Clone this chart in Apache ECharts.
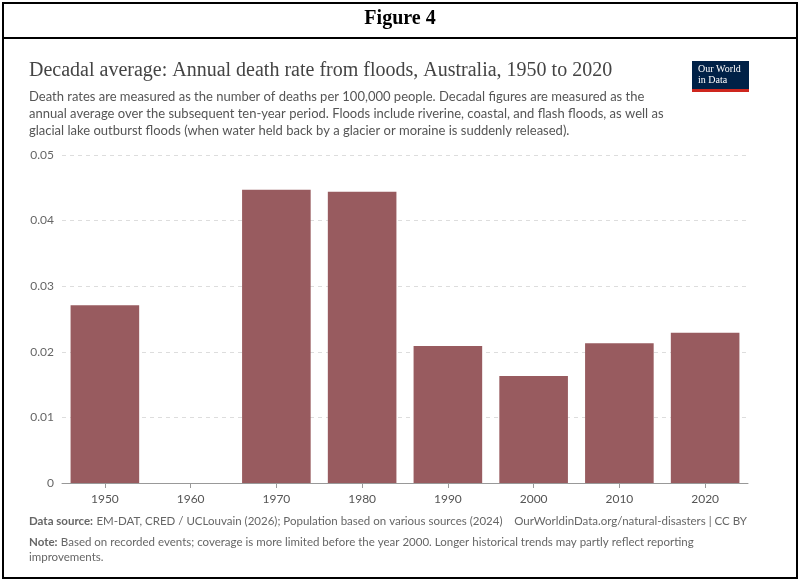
<!DOCTYPE html>
<html><head><meta charset="utf-8">
<script src="https://cdn.jsdelivr.net/npm/echarts@6/dist/echarts.min.js"></script>
<style>body{margin:0;background:#fff}#c{width:800px;height:582px}</style>
</head><body><div id="c"></div>
<script>
var decades = ['1950','1960','1970','1980','1990','2000','2010','2020'];
var deathRates = [0.0271, 0, 0.0447, 0.0444, 0.0209, 0.0163, 0.0213, 0.0229];
var yTicks = [0, 0.01, 0.02, 0.03, 0.04, 0.05];

var chart = echarts.init(document.getElementById('c'));
var sans = 'Lato, "Open Sans", sans-serif';
var serif = '"Liberation Serif", "DejaVu Serif", serif';

chart.setOption({
	animation: false,
	grid: {left: 62, right: 52, top: 155, bottom: 99},
	xAxis: {
		type: 'category', data: decades,
		axisLine: {lineStyle: {color: '#999'}},
		axisTick: {show: true, alignWithLabel: true, lineStyle: {color: '#999'}},
		axisLabel: {color: '#555', fontSize: 12, fontFamily: sans, margin: 10}
	},
	yAxis: {
		type: 'value', min: 0, max: 0.05, interval: 0.01,
		axisLabel: {color: '#666', fontSize: 12, fontFamily: sans,
			formatter: function(v){ return yTicks.indexOf(v) >= 0 ? String(+v.toFixed(2)) : ''; }},
		splitLine: {lineStyle: {color: '#ddd', type: [4, 4]}},
		axisLine: {show: false}, axisTick: {show: false}
	},
	series: [{
		type: 'bar', data: deathRates, barCategoryGap: '20%',
		itemStyle: {color: '#985b5f'}
	}],
	graphic: [
		{type: 'rect', shape: {x: 3, y: 3, width: 794, height: 575},
			style: {fill: 'none', stroke: '#000', lineWidth: 2}},
		{type: 'line', shape: {x1: 3, y1: 38, x2: 797, y2: 38},
			style: {stroke: '#000', lineWidth: 2}},
		{type: 'text', left: 'center', top: 9,
			style: {text: 'Figure 4', font: 'bold 20px ' + serif, fill: '#000'}},
		{type: 'text', left: 29, top: 61,
			style: {text: 'Decadal average: Annual death rate from floods, Australia, 1950 to 2020',
				font: '20px ' + serif, fill: '#444'}},
		{type: 'text', left: 29, top: 88,
			style: {text: 'Death rates are measured as the number of deaths per 100,000 people. Decadal figures are measured as the\nannual average over the subsequent ten-year period. Floods include riverine, coastal, and flash floods, as well as\nglacial lake outburst floods (when water held back by a glacier or moraine is suddenly released).',
				font: '13px ' + sans, fill: '#555', lineHeight: 17}},
		{type: 'rect', shape: {x: 692, y: 61, width: 57, height: 31}, style: {fill: '#002147'}},
		{type: 'rect', shape: {x: 692, y: 89, width: 57, height: 3}, style: {fill: '#ce261e'}},
		{type: 'text', left: 698, top: 64,
			style: {text: 'Our World\nin Data', font: '10px ' + serif, fill: '#fff', lineHeight: 11}},
		{type: 'text', left: 29, top: 515,
			style: {rich: {b: {font: 'bold 11.5px ' + sans, fill: '#666'}, n: {font: '11.5px ' + sans, fill: '#666'}},
				text: '{b|Data source:} {n|EM-DAT, CRED / UCLouvain (2026); Population based on various sources (2024)}'}},
		{type: 'text', right: 53, top: 515,
			style: {text: 'OurWorldinData.org/natural-disasters | CC BY', font: '11.5px ' + sans, fill: '#666'}},
		{type: 'text', left: 29, top: 536,
			style: {rich: {b: {font: 'bold 11.5px ' + sans, fill: '#666'}, n: {font: '11.5px ' + sans, fill: '#666', lineHeight: 15}},
				text: '{b|Note:} {n|Based on recorded events; coverage is more limited before the year 2000. Longer historical trends may partly reflect reporting}\n{n|improvements.}'}}
	]
});
</script></body></html>
